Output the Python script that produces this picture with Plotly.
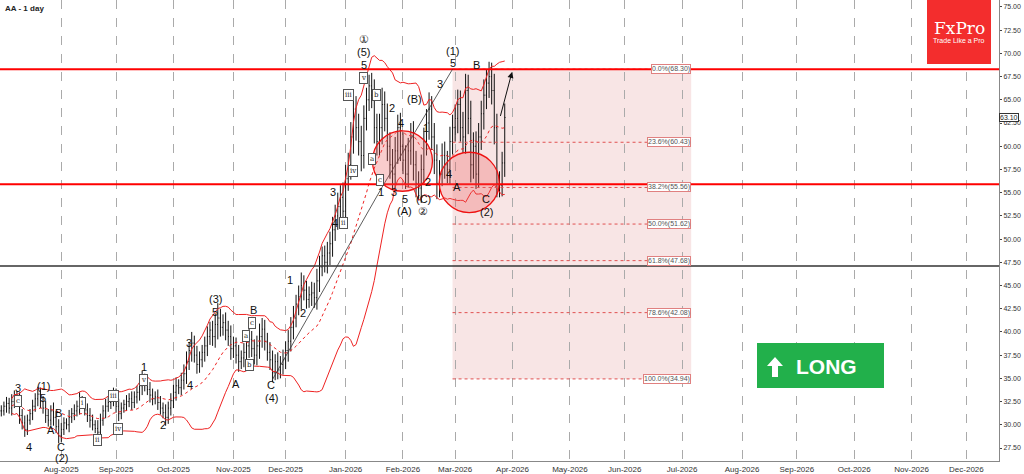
import pandas as pd
import numpy as np
import plotly.graph_objects as go

close = [31.5,32.0,32.3,31.8,32.5,33.0,32.6,31.0,30.2,29.5,30.5,31.2,32.0,32.8,33.3,32.5,31.8,31.0,30.5,31.5,30.8,29.8,28.8,
 29.5,30.2,30.0,30.8,31.2,31.5,32.0,32.6,32.2,31.6,31.0,30.5,30.0,29.6,29.2,30.5,31.5,32.0,32.4,32.8,33.2,
 32.0,31.2,31.8,32.2,32.5,32.8,32.4,33.0,33.5,34.2,34.8,34.3,33.8,33.2,32.8,33.0,32.4,31.8,31.3,30.8,31.8,32.6,
 33.5,34.2,34.0,34.8,35.5,36.8,38.0,38.8,37.5,36.5,37.0,37.8,38.5,39.5,40.2,39.5,40.8,41.5,40.5,41.0,40.2,39.5,38.2,
 38.5,37.5,36.8,37.2,37.8,38.5,39.2,38.2,37.5,38.5,39.5,40.3,39.0,37.8,37.0,35.6,36.8,35.9,36.5,37.0,
 38.0,39.0,40.5,41.5,43.0,43.8,45.0,44.5,43.5,44.0,44.2,43.7,45.5,47.0,48.2,47.5,48.5,49.5,51.0,52.5,53.5,54.5,53.0,
 56.5,58.0,61.0,64.0,62.0,60.5,59.0,63.0,65.0,66.5,65.5,62.0,60.5,62.0,64.5,63.0,60.0,58.0,57.0,59.5,62.0,60.0,
 58.5,57.0,59.5,61.0,58.0,56.0,55.5,57.5,60.5,62.5,64.0,61.0,58.5,56.0,57.0,59.0,58.0,57.5,60.5,62.0,
 63.0,64.5,62.0,61.0,66.0,63.0,58.0,60.0,57.0,61.0,63.5,65.5,66.8,67.5,66.0,62.0,56.0,55.8,58.2,63.1]
rng = [0.6,0.5,0.7,0.6,0.8,0.7,0.6,0.9,0.7,0.8,0.6,0.5,0.7,0.6,0.8,0.7,0.6,0.8,0.7,0.6,0.9,0.7,0.8,
 0.7,0.6,0.5,0.8,0.6,0.7,0.6,0.9,0.5,0.6,0.7,0.8,0.6,0.5,0.9,0.7,0.6,0.8,0.6,0.7,0.8,
 0.7,0.8,0.6,0.5,0.7,0.6,0.8,0.6,0.7,0.9,1.0,0.7,0.6,0.8,0.7,0.6,0.8,0.7,0.6,0.9,0.7,0.8,
 0.8,0.9,0.7,0.8,1.0,1.1,0.9,1.2,0.8,1.0,0.9,0.8,1.0,1.1,0.9,1.0,1.2,1.6,1.0,0.9,1.1,1.0,1.2,
 1.0,0.9,1.1,0.8,1.0,1.2,1.3,0.9,1.0,1.1,1.4,1.2,1.0,0.9,1.1,1.0,0.8,1.0,0.9,1.1,
 1.0,1.2,1.1,1.3,1.0,1.2,1.4,1.1,1.0,0.9,1.2,1.1,1.3,1.2,1.0,1.1,1.2,1.3,1.4,1.2,1.5,1.3,1.6,
 1.5,1.3,1.6,1.8,1.4,1.5,1.7,1.4,1.3,1.2,1.4,1.7,1.5,1.5,1.8,1.4,1.6,1.5,1.7,1.5,1.4,1.6,
 1.5,1.6,1.4,1.5,1.7,1.5,1.3,1.6,1.5,1.5,1.8,1.4,1.5,1.7,1.5,1.3,1.5,1.5,1.6,1.4,
 1.5,1.6,1.5,1.7,1.8,1.7,1.9,1.5,1.6,1.5,1.4,1.7,1.5,1.6,1.5,1.8,1.5,1.3,1.2,1.5]

fib_pct = ["0.0%", "23.6%", "38.2%", "50.0%", "61.8%", "78.6%", "100.0%"]
fib_val = [68.30, 60.43, 55.56, 51.62, 47.68, 42.08, 34.94]
red_levels = [68.3, 55.9]
black_level = 47.1
last_price = 63.10

# wave labels: (bar index, price, text, circled)
waves = [(6.5,34.0,"3",0),(6.5,32.6,"c",1),(16,34.2,"(1)",0),(16,32.9,"5",0),(10.7,27.6,"4",0),
 (19,29.4,"A",0),(22,31.3,"B",0),(23,27.6,"C",0),(23,26.4,"(2)",0),
 (31,32.4,"i",1),(37,28.4,"ii",1),(43,33.1,"iii",1),(44.7,29.6,"iv",1),(54.6,34.8,"v",1),(54.6,36.2,"1",0),
 (62,30.0,"2",0),(72,38.8,"3",0),(72.5,34.3,"4",0),(82,43.5,"(3)",0),(82,42.2,"5",0),
 (90,34.4,"A",0),(94,39.6,"a",1),(95,36.4,"b",1),(96,41.0,"c",1),(96.5,42.4,"B",0),
 (103.4,34.3,"C",0),(103.4,32.9,"(4)",0),(110.7,45.6,"1",0),(115.6,42.0,"2",0),
 (127,55.1,"3",0),(128,51.7,"4",0),(131,51.7,"ii",1),(133,65.5,"iii",1),(135,57.3,"iv",1),
 (139,67.4,"v",1),(139,68.8,"5",0),(139,70.2,"(5)",0),(139,71.6,"①",0),
 (142,58.6,"a",1),(144,65.5,"b",1),(149.6,64.1,"2",0),(145,56.4,"c",1),(145.4,55.1,"1",0),
 (150.4,55.1,"3",0),(153.4,62.5,"4",0),(154.6,54.3,"5",0),(154.6,53.0,"(A)",0),
 (158.4,65.1,"(B)",0),(163,62.0,"1",0),(163.7,56.2,"2",0),(161.8,54.3,"(C)",0),(161.8,53.0,"②",0),
 (168,66.7,"3",0),(173,70.3,"(1)",0),(173,69.0,"5",0),(171.8,57.0,"4",0),(174.8,55.6,"A",0),
 (182,68.7,"B",0),(186,54.3,"C",0),(186,52.9,"(2)",0)]

n = len(close)
dates = pd.bdate_range("2025-07-01", periods=400)
idx = np.arange(n)
c = np.array(close); r = np.array(rng)
o = np.concatenate([[c[0]], c[:-1]])
h = np.maximum(o, c) + r
l = np.minimum(o, c) - r

s = pd.Series(c)
mid = s.rolling(20, min_periods=5).mean()
sd = s.rolling(20, min_periods=5).std()
up, dn = mid + 2 * sd, mid - 2 * sd

fig = go.Figure()
for y, dash in [(up, "solid"), (mid, "dot"), (dn, "solid")]:
    fig.add_trace(go.Scatter(x=idx, y=y, mode="lines", line=dict(color="#ee2222", width=1, dash=dash), hoverinfo="skip"))
fig.add_trace(go.Ohlc(x=idx, open=o, high=h, low=l, close=c, tickwidth=0.3,
                      increasing_line_color="#111", decreasing_line_color="#111", line_width=1))

X0, X1 = -0.5, 382.5
Y0, Y1 = 26.1, 75.75
shapes = []
shapes.append(dict(type="rect", x0=173, x1=264.5, y0=fib_val[-1], y1=fib_val[0], fillcolor="rgba(236,180,180,0.35)", line_width=0, layer="below"))
ann = []
for p, v in zip(fib_pct, fib_val):
    shapes.append(dict(type="line", x0=173, x1=264.5, y0=v, y1=v, line=dict(color="#e05050", width=1, dash="dot")))
    ann.append(dict(x=264.5, y=v, text=f"{p}({v:.2f})", showarrow=False, xanchor="right", font=dict(size=7, color="#555"),
                    bgcolor="white", bordercolor="#e08080", borderwidth=1, borderpad=0))
for v in red_levels:
    shapes.append(dict(type="line", x0=X0, x1=X1, y0=v, y1=v, line=dict(color="#ff0000", width=2)))
shapes.append(dict(type="line", x0=X0, x1=X1, y0=black_level, y1=black_level, line=dict(color="#333", width=1.5)))
shapes.append(dict(type="line", x0=103.8, y0=34.8, x1=146, y1=55.6, line=dict(color="#333", width=0.8)))
shapes.append(dict(type="line", x0=146, y0=55.6, x1=173, y1=68.3, line=dict(color="#333", width=0.8)))
for cx, cy in [(153.8, 58.4), (179.4, 56.1)]:
    shapes.append(dict(type="circle", x0=cx-11.5, x1=cx+11.5, y0=cy-3.25, y1=cy+3.25,
                       fillcolor="rgba(235,90,90,0.3)", line=dict(color="#ee1111", width=1.3)))
ann.append(dict(x=195.8, y=68.0, ax=191.2, ay=63.1, axref="x", ayref="y", showarrow=True, arrowhead=2,
                arrowsize=1.2, arrowwidth=1, arrowcolor="#111", text=""))
for xi, yi, t, circ in waves:
    if circ:
        ann.append(dict(x=xi, y=yi, text=t, showarrow=False, font=dict(size=7, color="#222", family="DejaVu Serif"),
                        bgcolor="white", bordercolor="#555", borderwidth=1, borderpad=1))
    else:
        ann.append(dict(x=xi, y=yi, text=t, showarrow=False, font=dict(size=11, color="#111", family="Liberation Sans")))

tickv, tickt = [], []
for i, d in enumerate(dates):
    if i > 0 and d.month != dates[i-1].month and i < X1:
        tickv.append(i); tickt.append(d.strftime("%b-%Y"))

W, H = 1024, 474
PW, PH = 999, 461
def px(x): return x / PW
def py(y): return 1 - y / PH
shapes.append(dict(type="rect", xref="paper", yref="paper", x0=px(927), x1=px(991), y0=py(64), y1=py(0), fillcolor="#f32d2d", line_width=0))
ann.append(dict(xref="paper", yref="paper", x=px(959), y=py(28), xanchor="center", yanchor="middle", text="FxPro", showarrow=False,
                font=dict(family="DejaVu Serif", size=17, color="white")))
ann.append(dict(xref="paper", yref="paper", x=px(959), y=py(41), xanchor="center", yanchor="middle", text="Trade Like a Pro", showarrow=False,
                font=dict(size=7, color="white")))
shapes.append(dict(type="rect", xref="paper", yref="paper", x0=px(757), x1=px(884), y0=py(388), y1=py(343), fillcolor="#22b04b", line_width=0))
ax0, ay0 = 768, 357
pts = [(ax0+7, ay0), (ax0+15, ay0+9), (ax0+10, ay0+9), (ax0+10, ay0+20), (ax0+4, ay0+20), (ax0+4, ay0+9), (ax0-1, ay0+9)]
path = "M " + " L ".join(f"{px(a):.5f},{py(b):.5f}" for a, b in pts) + " Z"
shapes.append(dict(type="path", xref="paper", yref="paper", path=path, fillcolor="white", line_width=0))
ann.append(dict(xref="paper", yref="paper", x=px(826), y=py(366), xanchor="center", yanchor="middle", text="<b>LONG</b>", showarrow=False,
                font=dict(family="Liberation Sans", size=21, color="white")))
ann.append(dict(xref="paper", yref="paper", x=0.003, y=0.995, xanchor="left", yanchor="top", text="<b>AA - 1 day</b>", showarrow=False,
                font=dict(size=8, color="#222")))
ann.append(dict(xref="paper", x=1.0, y=last_price, xanchor="left", yanchor="middle", text="63.10", showarrow=False, font=dict(size=7, color="#222"),
                bgcolor="white", bordercolor="#333", borderwidth=1, borderpad=0))

fig.update_layout(width=W, height=H, margin=dict(l=0, r=25, t=0, b=13, autoexpand=False), plot_bgcolor="white", paper_bgcolor="white",
                  showlegend=False, shapes=shapes, annotations=ann, font=dict(family="Liberation Sans"), hovermode=False)
fig.update_xaxes(range=[X0, X1], tickvals=tickv, ticktext=tickt, showgrid=True, gridcolor="#aaa", griddash="dash",
                 tickfont=dict(size=8, color="#333"), rangeslider_visible=False, showline=True, linecolor="#888", mirror=True,
                 ticks="", zeroline=False)
fig.update_yaxes(range=[Y0, Y1], side="right", tickvals=list(np.arange(27.5, 75.01, 2.5)), tickformat=".2f", showgrid=False,
                 tickfont=dict(size=7, color="#333"), showline=True, linecolor="#888", mirror=True, ticks="outside", ticklen=2, zeroline=False)
fig.write_html("out.html", config={"displayModeBar": False},
               post_script="document.body.style.margin='0';document.body.style.overflow='hidden';")
